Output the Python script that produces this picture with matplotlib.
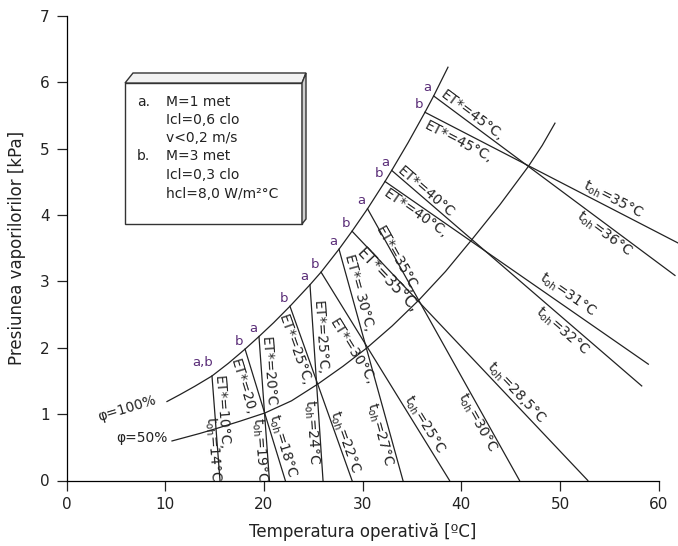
import numpy as np
import matplotlib.pyplot as plt
from matplotlib.patches import Polygon

plt.rcParams['font.family'] = ['DejaVu Sans']
plt.rcParams['mathtext.fontset'] = 'dejavusans'

# curba phi = 100 %
sat_t = [10.18, 11.50, 13.00, 14.74, 16.40, 18.09, 19.50, 21.00, 22.64, 24.67, 25.79,
         27.61, 28.93, 30.50, 32.27, 32.95, 34.60, 36.32, 37.20, 38.65]
sat_p = [1.19, 1.295, 1.42, 1.575, 1.766, 1.98, 2.17, 2.38, 2.626, 2.95, 3.14,
         3.486, 3.757, 4.095, 4.506, 4.673, 5.089, 5.549, 5.795, 6.228]

# curba phi = 50 %
hum_t = [10.69, 13.53, 15.25, 17.60, 20.11, 22.80, 25.48, 28.00, 30.45, 33.00,
         35.71, 38.40, 41.05, 43.92, 46.76, 48.20, 49.49]
hum_p = [0.596, 0.71, 0.786, 0.895, 1.018, 1.201, 1.455, 1.72, 2.00, 2.33,
         2.72, 3.15, 3.627, 4.158, 4.726, 5.05, 5.385]

# dreptele ET* / t_oh (capat sus pe phi=100%, capat jos)
case = ['a,b', 'a', 'b', 'a', 'b', 'a', 'b', 'a', 'b', 'a', 'b', 'a', 'b']
top_t = [14.74, 19.50, 18.09, 24.67, 22.64, 27.61, 25.79, 30.50, 28.93, 32.95, 32.27, 37.20, 36.32]
top_p = [1.575, 2.17, 1.98, 2.95, 2.626, 3.486, 3.14, 4.095, 3.757, 4.673, 4.506, 5.795, 5.549]
end_t = [15.55, 20.56, 22.17, 25.99, 28.93, 34.09, 38.81, 45.90, 52.82, 58.28, 58.95, 61.65, 61.95]
end_p = [0, 0, 0, 0, 0, 0, 0, 0, 0, 1.425, 1.753, 3.09, 3.58]
et_text = ['ET*=10°C,', 'ET*=20°C', 'ET*=20,', 'ET*=25°C,', 'ET*=25°C,', 'ET*= 30°C,',
           'ET*=30°C,', 'ET*=35°C,', 'ET*=35°C,', 'ET*=40°C', 'ET*=40°C,', 'ET*=45°C,', 'ET*=45°C,']
toh_val = ['14', '19', '18', '24', '22', '27', '25', '30', '28,5', '32', '31', '36', '35']

# pozitii etichete (centru)
et_pos = [(15.65, 1.02), (20.42, 1.64), (17.88, 1.41), (25.68, 2.15), (23.15, 1.97),
          (29.64, 2.83), (28.93, 1.94), (33.45, 3.33), (32.47, 3.02), (36.42, 4.35),
          (35.41, 4.03), (41.08, 5.50), (39.67, 5.11)]
toh_pos = [(14.84, 0.475), (19.60, 0.46), (21.83, 0.52), (24.77, 0.73), (28.22, 0.58),
           (31.76, 0.70), (36.22, 0.85), (41.59, 0.88), (45.54, 1.32), (50.20, 2.25),
           (50.71, 2.80), (54.46, 3.72), (55.37, 4.23)]

W, H = 678, 546
fig = plt.figure(figsize=(W / 100, H / 100), dpi=100)
ax = fig.add_axes([66.5 / W, 1 - 480.5 / H, (658.7 - 66.5) / W, (480.5 - 16) / H])
ax.set_xlim(0, 60)
ax.set_ylim(0, 7)
for s in ['top', 'right']:
    ax.spines[s].set_visible(False)
ax.spines['left'].set_linewidth(0.9)
ax.spines['bottom'].set_linewidth(0.9)
ax.set_xticks(range(0, 61, 10))
ax.set_yticks(range(0, 8))
ax.tick_params(direction='out', length=7, width=0.9, labelsize=11, pad=5, colors='#222222')
ax.set_xlabel('Temperatura operativă [ºC]', fontsize=12, color='#222222', labelpad=8)
ax.set_ylabel('Presiunea vaporilorilor [kPa]', fontsize=12, color='#222222', labelpad=10)

lc = '#222222'
ax.plot(sat_t, sat_p, color=lc, lw=0.9)
ax.plot(hum_t, hum_p, color=lc, lw=0.9)

def angle(p1, p2):
    a = ax.transData.transform(p1)
    b = ax.transData.transform(p2)
    return np.degrees(np.arctan2(b[1] - a[1], b[0] - a[0]))

for i in range(len(top_t)):
    ax.plot([top_t[i], end_t[i]], [top_p[i], end_p[i]], color=lc, lw=0.9, clip_on=False)
    rot = angle((top_t[i], top_p[i]), (end_t[i], end_p[i]))
    fs = 11 if i == 8 else 10
    ax.text(et_pos[i][0], et_pos[i][1], et_text[i], rotation=rot, rotation_mode='anchor',
            ha='center', va='center', fontsize=fs, color='#222222')
    ax.text(toh_pos[i][0], toh_pos[i][1], r'$\mathregular{t_{oh}}$=' + toh_val[i] + '°C',
            rotation=rot, rotation_mode='anchor', ha='center', va='center', fontsize=10,
            color='#222222', clip_on=False)
    off = (-9, 13) if case[i] == 'a,b' else (-6, 8)
    ax.annotate(case[i], (top_t[i], top_p[i]), xytext=off, textcoords='offset pixels',
                ha='center', va='center', fontsize=9.5, color='#5a2d78')

ax.text(6.13, 1.08, 'φ=100%', rotation=17, ha='center', va='center', fontsize=10, color='#222222')
ax.text(7.65, 0.64, 'φ=50%', ha='center', va='center', fontsize=10, color='#222222')

# caseta cu conditii (efect 3D)
def fp(x, y):
    return (x / W, 1 - y / H)

front = Polygon([fp(125, 83), fp(302, 83), fp(302, 224), fp(125, 224)], closed=True,
                transform=fig.transFigure, facecolor='white', edgecolor='#333333', lw=1.0)
top_face = Polygon([fp(125, 83), fp(133, 73), fp(306, 73), fp(302, 83)], closed=True,
                   transform=fig.transFigure, facecolor='#f2f2f2', edgecolor='#333333', lw=1.0)
side = Polygon([fp(302, 83), fp(306, 73), fp(306, 219), fp(302, 224)], closed=True,
               transform=fig.transFigure, facecolor='#cfcfcf', edgecolor='#333333', lw=1.0)
for p in (front, top_face, side):
    fig.patches.append(p)

rows = [('a.', 'M=1 met', 102), ('', 'Icl=0,6 clo', 120), ('', 'v<0,2 m/s', 138),
        ('b.', 'M=3 met', 156), ('', 'Icl=0,3 clo', 175), ('', 'hcl=8,0 W/m²°C', 194)]
for lab, txt, y in rows:
    if lab:
        fig.text(*fp(137, y), lab, ha='left', va='center', fontsize=10, color='#222222')
    fig.text(*fp(166, y), txt, ha='left', va='center', fontsize=10, color='#222222')

fig.savefig('out.png', dpi=100)
